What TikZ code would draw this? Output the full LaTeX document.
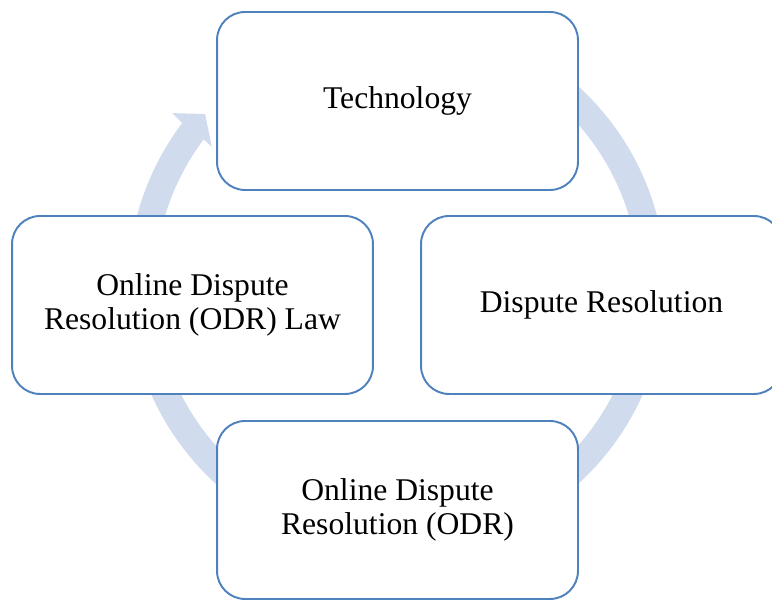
\documentclass[tikz,border=0pt]{standalone}
\usepackage{fontspec}
\setmainfont{Liberation Serif}
\usetikzlibrary{positioning, calc}
\definecolor{steel_blue}{RGB}{79, 129, 189}
\definecolor{ring_blue}{RGB}{208, 219, 238}

\begin{document}
\begin{tikzpicture}[
    x=0.02cm, y=0.02cm,
    stage/.style={
        rectangle,
        draw=steel_blue,
        fill=white,
        line width=1.1pt,
        minimum width=7.22cm,
        minimum height=3.56cm,
        rounded corners=0.56cm,
        align=center,
        font=\fontsize{18}{19}\selectfont
    },
    ring/.style={
        fill=#1
    }
]

\useasboundingbox (0,0) rectangle (772,601);

% cycle arrow behind the boxes
\begin{scope}[shift={(397,316)}]
\fill[ring=ring_blue] (130:269) arc[start angle=130, end angle=-217, radius=269]
    -- (142.6:283) -- (138.3:257) -- (143.3:231)
    -- (-217:242) arc[start angle=-217, end angle=130, radius=242] -- cycle;
\end{scope}

\node[stage] (tech) at (397.5,500) {Technology};
\node[stage] (dispute) at (601.5,296) {Dispute Resolution};
\node[stage] (odr) at (397.5,91) {Online Dispute\\Resolution (ODR)};
\node[stage] (odrlaw) at (192.5,296) {Online Dispute\\Resolution (ODR) Law};

\end{tikzpicture}
\end{document}
